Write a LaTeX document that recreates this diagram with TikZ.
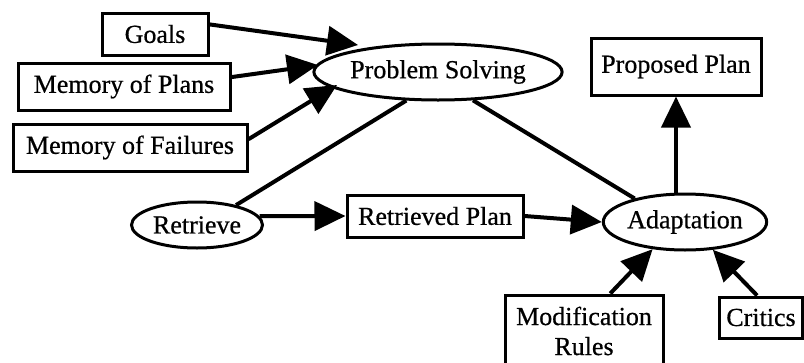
\documentclass[tikz,border=0pt]{standalone}
\usepackage{fontspec}
\setmainfont{Liberation Serif}[BoldFont=Liberation Serif, BoldFeatures={FakeBold=0.6}]
\usetikzlibrary{arrows.meta,shapes.geometric}
\begin{document}
\begin{tikzpicture}[x=1pt,y=-1pt,
  every node/.style={font=\fontsize{26}{30}\selectfont\bfseries, inner sep=0pt},
  box/.style={draw, line width=3pt, rectangle},
  oval/.style={draw, line width=3pt, ellipse},
  link/.style={line width=4pt},
  arr/.style={line width=4pt, -{Triangle[length=31pt,width=29pt]}}]
\useasboundingbox (0,0) rectangle (804,362);

% inputs to problem solving
\node[box, minimum width=106pt, minimum height=42pt] (goals) at (155,34) {Goals};
\node[box, minimum width=212pt, minimum height=47pt] (mplans) at (124,86.5) {Memory of Plans};
\node[box, minimum width=234pt, minimum height=47pt] (mfail) at (130,147.5) {Memory of Failures};

% central processes
\node[oval, minimum width=230pt, minimum height=56pt] (ps) at (438,72) {Problem Solving};
\node[oval, minimum width=131pt, minimum height=46pt] (retr) at (197,225) {Retrieve};
\node[oval, minimum width=160pt, minimum height=56pt] (adapt) at (685,222) {Adaptation};

% plans
\node[box, minimum width=176pt, minimum height=42pt] (rp) at (435,216) {Retrieved Plan};
\node[box, minimum width=170pt, minimum height=57pt] (pp) at (676,66.5) {Proposed Plan};

% knowledge used by adaptation
\node[box, minimum width=158pt, minimum height=72pt, align=center]
  (mr) at (584,331) {Modification\\Rules};
\node[box, minimum width=83pt, minimum height=41pt] (critics) at (761,317.5) {Critics};

% arrow tips ending short of the problem-solving oval
\coordinate (tg) at (358,45);
\coordinate (tp) at (318,65);
\coordinate (tf) at (337,85);

\draw[arr] (goals.10) -- (tg);
\draw[arr] (mplans.5) -- (tp);
\draw[arr] (mfail.4) -- (tf);

\draw[link] (retr.27) -- (ps.222);
\draw[link] (ps.321) -- (adapt.155);

\draw[arr] (retr.8) -- (rp.west);
\draw[arr] (rp.east) -- (adapt.west);
\draw[arr] (adapt.north -| pp.south) -- (pp.south);

\draw[arr] (mr.55) -- (adapt.220);
\draw[arr] (critics.100) -- (adapt.315);
\end{tikzpicture}
\end{document}
